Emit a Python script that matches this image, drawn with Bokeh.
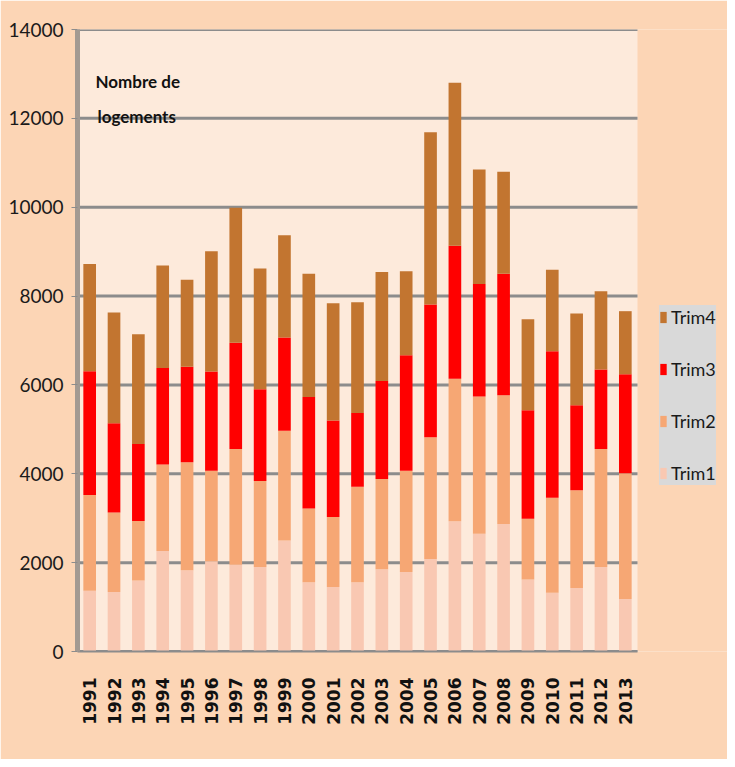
from bokeh.plotting import figure
from bokeh.models import (Legend, LegendItem, Label, ColumnDataSource, FixedTicker,
                          Range1d, BoxAnnotation)
from bokeh.embed import file_html
from bokeh.resources import INLINE
import math

years = [str(y) for y in range(1991, 2014)]
trim1 = [1370, 1340, 1600, 2260, 1830, 2030, 1950, 1900, 2500, 1560, 1450, 1560,
         1850, 1790, 2080, 2930, 2650, 2870, 1620, 1320, 1430, 1900, 1180]
trim2 = [2150, 1790, 1340, 1950, 2430, 2040, 2610, 1940, 2470, 1660, 1580, 2150,
         2030, 2280, 2740, 3210, 3090, 2900, 1370, 2140, 2200, 2660, 2830]
trim3 = [2790, 2010, 1730, 2170, 2150, 2230, 2390, 2060, 2100, 2510, 2170, 1660,
         2210, 2600, 2990, 2990, 2530, 2730, 2440, 3300, 1910, 1790, 2230]
trim4 = [2410, 2490, 2470, 2310, 1960, 2710, 3040, 2720, 2300, 2770, 2640, 2490,
         2450, 1890, 3880, 3670, 2580, 2300, 2050, 1830, 2070, 1760, 1420]
series = ["Trim1", "Trim2", "Trim3", "Trim4"]
colors = ["#F9C8B2", "#F6A774", "#FF0000", "#C27530"]
y_ticks = [0, 2000, 4000, 6000, 8000, 10000, 12000, 14000]

n = len(years)
xs = list(range(n))
source = ColumnDataSource(dict(x=xs, Trim1=trim1, Trim2=trim2, Trim3=trim3, Trim4=trim4))

frame_w = 650.0
wall_w = 560.0
x_end = -0.5 + frame_w / (wall_w / n)

p = figure(x_range=Range1d(-0.5, x_end), y_range=Range1d(0, 14000), width=727, height=759,
           output_backend="svg", toolbar_location=None,
           min_border_left=77, min_border_right=0, min_border_top=29, min_border_bottom=108)
p.background_fill_color = "#FCD5B5"
p.border_fill_color = "#FCD5B5"
p.outline_line_color = None
p.grid.grid_line_color = None

p.add_layout(BoxAnnotation(left=-0.5, right=n - 0.5, bottom=0, top=14000,
                           fill_color="#FDEADB", fill_alpha=1, line_color=None,
                           level="underlay"))
p.segment(x0=[-0.5] * len(y_ticks), x1=[n - 0.5] * len(y_ticks), y0=y_ticks, y1=y_ticks,
          line_color="#8C8C8C", line_width=3)

rs = p.vbar_stack(series, x="x", width=0.52, color=colors, source=source, line_color=None)

p.yaxis.ticker = FixedTicker(ticks=y_ticks)
p.yaxis.axis_line_color = "#A39A92"
p.yaxis.axis_line_width = 5
p.yaxis.major_tick_line_color = "#8C8C8C"
p.yaxis.major_tick_in = 0
p.yaxis.major_tick_out = 6
p.yaxis.minor_tick_line_color = None
p.yaxis.major_label_text_font = "Lato"
p.yaxis.major_label_text_font_size = "19px"
p.yaxis.major_label_text_color = "#1a1a1a"
p.yaxis.major_label_standoff = 8

p.xaxis.ticker = FixedTicker(ticks=xs)
p.xaxis.major_label_overrides = {i: y for i, y in zip(xs, years)}
p.xaxis.bounds = (-0.5, n - 0.5)
p.xaxis.axis_line_color = "#8C8C8C"
p.xaxis.axis_line_width = 2
p.xaxis.major_tick_line_color = None
p.xaxis.minor_tick_line_color = None
p.xaxis.major_tick_out = 0
p.xaxis.major_tick_in = 0
p.xaxis.major_label_orientation = math.pi / 2
p.xaxis.major_label_text_font = "DejaVu Sans"
p.xaxis.major_label_text_font_style = "bold"
p.xaxis.major_label_text_font_size = "17px"
p.xaxis.major_label_text_color = "#111111"
p.xaxis.major_label_standoff = 26

items = [LegendItem(label=s, renderers=[r]) for s, r in zip(series, rs)]
items.reverse()
legend = Legend(items=items, location=(582, 166))
legend.background_fill_color = "#D9D9D9"
legend.background_fill_alpha = 1
legend.border_line_color = None
legend.label_text_font = "Lato"
legend.label_text_font_size = "18px"
legend.label_text_color = "#1a1a1a"
legend.glyph_width = 8
legend.glyph_height = 14
legend.label_height = 24
legend.spacing = 28
legend.padding = 8
legend.margin = 0
legend.label_standoff = 4
p.add_layout(legend, "center")

for txt, dx, dy in [("Nombre de", 18, 570), ("logements", 20, 535)]:
    p.add_layout(Label(x=dx, y=dy, x_units="screen", y_units="screen", text=txt,
                       text_font="Lato", text_font_style="bold",
                       text_font_size="17px", text_baseline="middle", text_color="#111111"))

open("out.html", "w").write(file_html(p, INLINE))
